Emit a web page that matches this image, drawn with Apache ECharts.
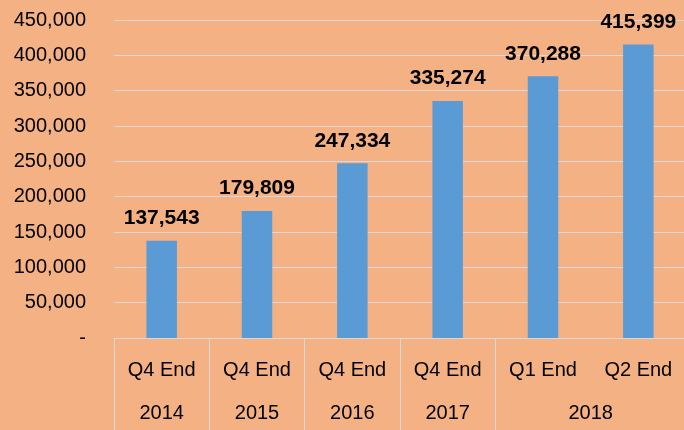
<!DOCTYPE html>
<html>
<head>
<meta charset="utf-8">
<script src="https://cdn.jsdelivr.net/npm/echarts@6/dist/echarts.min.js"></script>
<style>
  html, body { margin: 0; padding: 0; background: #F4B183; overflow: hidden; }
  #chart { width: 690px; height: 430px; }
</style>
</head>
<body>
<div id="chart"></div>
<script>
// 数据
var quarters = ['Q4 End', 'Q4 End', 'Q4 End', 'Q4 End', 'Q1 End', 'Q2 End'];
var years = ['2014', '2015', '2016', '2017', '2018'];
var yearCenters = [0.5, 1.5, 2.5, 3.5, 5]; // 年份标签在类目刻度上的位置
var totals = [137543, 179809, 247334, 335274, 370288, 415399];

var gridColor = '#D9D9D9';
var fontFamily = 'Liberation Sans, Arial, sans-serif';

function fmtNum(v) {
    return String(v).replace(/\B(?=(\d{3})+(?!\d))/g, ',');
}

var chart = echarts.init(document.getElementById('chart'));
var option = {
    backgroundColor: '#F4B183',
    animation: false,
    grid: { left: 114, right: 4, top: 20, bottom: 92 },
    xAxis: [{
        type: 'category',
        data: quarters,
        axisLine: { show: true, lineStyle: { color: gridColor, width: 1 } },
        axisTick: {
            show: true,
            length: 92,
            interval: function (index) { return index < 5; },
            lineStyle: { color: gridColor, width: 1 }
        },
        axisLabel: { color: '#000', fontSize: 20, fontFamily: fontFamily, margin: 22, interval: 0 }
    }, {
        type: 'value',
        position: 'bottom',
        min: 0,
        max: 6,
        interval: 0.5,
        axisLine: { show: false },
        axisTick: { show: false },
        splitLine: { show: false },
        axisLabel: {
            color: '#000', fontSize: 20, fontFamily: fontFamily, margin: 65,
            formatter: function (v) {
                var i = yearCenters.indexOf(v);
                return i >= 0 ? years[i] : '';
            }
        }
    }],
    yAxis: {
        type: 'value',
        min: 0,
        max: 450000,
        interval: 50000,
        axisLine: { show: false },
        axisTick: { show: false },
        splitLine: { show: true, lineStyle: { color: gridColor, width: 1 } },
        axisLabel: {
            color: '#000', fontSize: 20, fontFamily: fontFamily, margin: 28,
            formatter: function (v) { return v === 0 ? '-' : fmtNum(v); }
        }
    },
    series: [{
        type: 'bar',
        xAxisIndex: 0,
        data: totals,
        barWidth: '32%',
        itemStyle: { color: '#5B9BD5' },
        label: {
            show: true,
            position: 'top',
            distance: 12,
            color: '#000',
            fontSize: 21,
            fontWeight: 'bold',
            fontFamily: fontFamily,
            formatter: function (p) { return fmtNum(p.value); }
        }
    }]
};
chart.setOption(option);
</script>
</body>
</html>
